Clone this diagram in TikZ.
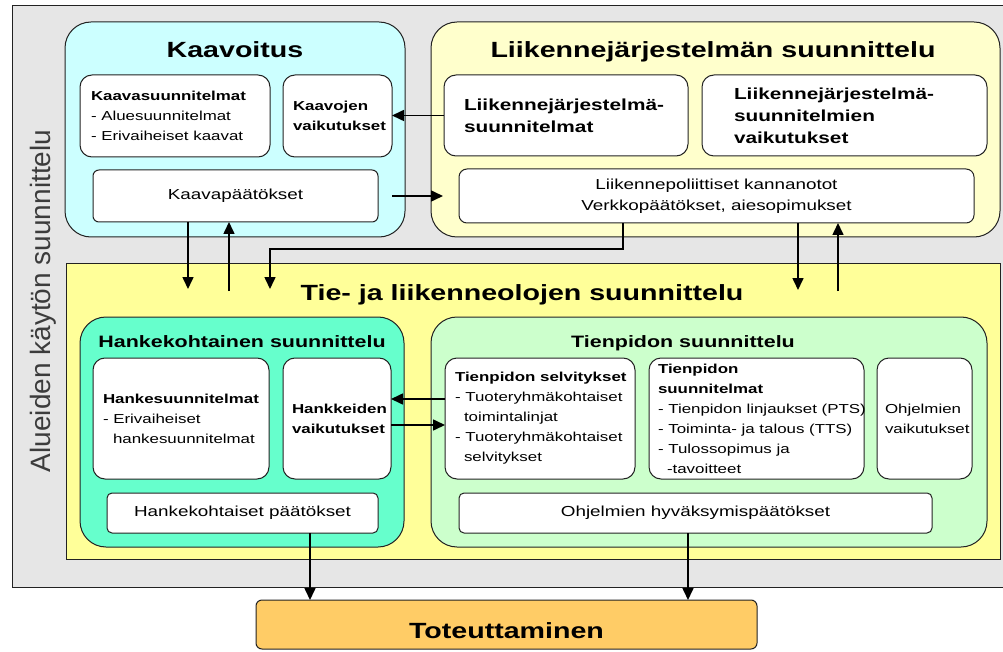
\documentclass[tikz,border=0pt]{standalone}
\usepackage{fontspec}
\setmainfont{Liberation Sans}[FakeStretch=1.3]
\newfontfamily\sidelabelfont{Liberation Sans}
\usetikzlibrary{arrows.meta}
\definecolor{cgray}{HTML}{E6E6E6}
\definecolor{ccyan}{HTML}{CCFFFF}
\definecolor{cliik}{HTML}{FFFFCC}
\definecolor{ctie}{HTML}{FFFF99}
\definecolor{chank}{HTML}{66FFCC}
\definecolor{ctienp}{HTML}{CCFFCC}
\definecolor{ctot}{HTML}{FFCC66}
\definecolor{cline}{HTML}{222222}
\definecolor{clabel}{HTML}{3C3C3C}
\tikzset{
  every node/.style={inner sep=0pt, outer sep=0pt},
  bigbox/.style={draw=cline, line width=1pt, rounded corners=26pt},
  inbox/.style={draw=cline, fill=white, line width=1pt, rounded corners=12pt},
  barbox/.style={draw=cline, fill=white, line width=1pt, rounded corners=6pt},
  ttl/.style={font=\fontsize{22}{26}\selectfont\bfseries, anchor=base},
  subttl/.style={font=\fontsize{16.5}{20}\selectfont\bfseries, anchor=base},
  medtxt/.style={font=\fontsize{14.5}{21}\selectfont, align=center},
  smtxt/.style={font=\fontsize{13}{20}\selectfont, align=left, anchor=west},
  lrgtxt/.style={font=\fontsize{16}{22}\selectfont\bfseries, align=left, anchor=west},
  arr/.style={draw=black, line width=1.6pt, -{Triangle[length=12pt,width=11pt]}},
}
\begin{document}
\begin{tikzpicture}[x=1pt,y=-1pt]
\useasboundingbox (0,0) rectangle (1003,652);
\clip (0,0) rectangle (1003,652);
\fill[white] (0,0) rectangle (1003,652);
% outer gray area
\draw[fill=cgray, draw=cline, line width=1pt] (12,6) rectangle (1012,587);
\node[font=\sidelabelfont\fontsize{28}{32}\selectfont, text=clabel, rotate=90, anchor=base] (alue) at (50,301) {Alueiden käytön suunnittelu};

% main boxes
\node[bigbox, fill=ccyan, minimum width=340pt, minimum height=215pt] (kaav) at (235,129.5) {};
\node[bigbox, fill=cliik, minimum width=569pt, minimum height=215pt] (liik) at (715.5,129.5) {};
\node[draw=cline, line width=1pt, fill=ctie, minimum width=934pt, minimum height=296pt] (tie) at (533,411) {};
\node[bigbox, fill=chank, minimum width=324pt, minimum height=230pt] (hank) at (242,432) {};
\node[bigbox, fill=ctienp, minimum width=556pt, minimum height=230pt] (tienp) at (709,432) {};
\node[barbox, fill=ctot, minimum width=501pt, minimum height=49pt] (tot) at (506.5,624.5) {};

% titles
\node[ttl] (kaavT) at (235,58) {Kaavoitus};
\node[ttl] (liikT) at (713,58) {Liikennejärjestelmän suunnittelu};
\node[ttl] (tieT) at (522,300) {Tie- ja liikenneolojen suunnittelu};
\node[subttl] (hankT) at (242,347) {Hankekohtainen suunnittelu};
\node[subttl] (tienpT) at (683,347) {Tienpidon suunnittelu};
\node[ttl] (totT) at (506.5,638) {Toteuttaminen};

% Kaavoitus inner boxes
\node[inbox, minimum width=190pt, minimum height=82pt] (ksuun) at (175,116) {};
\node[smtxt] (ksuunT) at ([xshift=11pt]ksuun.west) {\textbf{Kaavasuunnitelmat}\\- Aluesuunnitelmat\\- Erivaiheiset kaavat};
\node[inbox, minimum width=109pt, minimum height=82pt] (kvaik) at (337.5,116) {};
\node[smtxt, font=\fontsize{13}{20}\selectfont\bfseries] (kvaikT) at ([xshift=10pt]kvaik.west) {Kaavojen\\vaikutukset};
\node[barbox, medtxt, minimum width=285pt, minimum height=52pt] (kpaat) at (235.5,196) {Kaavapäätökset};

% Liikennejarjestelma inner boxes
\node[inbox, minimum width=244pt, minimum height=81pt] (lsuun) at (566,115.5) {};
\node[lrgtxt] (lsuunT) at ([xshift=20pt]lsuun.west) {Liikennejärjestelmä-\\suunnitelmat};
\node[inbox, minimum width=285pt, minimum height=81pt] (lvaik) at (844.5,115.5) {};
\node[lrgtxt] (lvaikT) at ([xshift=32pt]lvaik.west) {Liikennejärjestelmä-\\suunnitelmien\\vaikutukset};
\node[barbox, medtxt, rounded corners=8pt, minimum width=515pt, minimum height=54pt] (lpol) at (716.5,196) {Liikennepoliittiset kannanotot\\Verkkopäätökset, aiesopimukset};

% Hankekohtainen inner boxes
\node[inbox, minimum width=176pt, minimum height=121pt] (hsuun) at (181,418.5) {};
\node[smtxt] (hsuunT) at ([xshift=10pt]hsuun.west) {\textbf{Hankesuunnitelmat}\\- Erivaiheiset\\\hspace*{10pt}hankesuunnitelmat};
\node[inbox, minimum width=108pt, minimum height=121pt] (hvaik) at (337,418.5) {};
\node[smtxt, font=\fontsize{13}{20}\selectfont\bfseries] (hvaikT) at ([xshift=9pt]hvaik.west) {Hankkeiden\\vaikutukset};
\node[barbox, medtxt, rounded corners=5pt, minimum width=271pt, minimum height=40pt] (hpaat) at (242.5,513) {Hankekohtaiset päätökset};

% Tienpidon inner boxes
\node[inbox, minimum width=190pt, minimum height=121pt] (tselv) at (540,418.5) {};
\node[smtxt] (tselvT) at ([xshift=10pt]tselv.west) {\textbf{Tienpidon selvitykset}\\- Tuoteryhmäkohtaiset\\\hspace*{9pt}toimintalinjat\\- Tuoteryhmäkohtaiset\\\hspace*{9pt}selvitykset};
\node[inbox, minimum width=215pt, minimum height=121pt] (tsuun) at (756.5,418.5) {};
\node[smtxt] (tsuunT) at ([xshift=9pt]tsuun.west) {\textbf{Tienpidon}\\\textbf{suunnitelmat}\\- Tienpidon linjaukset (PTS)\\- Toiminta- ja talous (TTS)\\- Tulossopimus ja\\\hspace*{9pt}-tavoitteet};
\node[inbox, minimum width=95pt, minimum height=121pt] (ovaik) at (924.5,418.5) {};
\node[smtxt] (ovaikT) at ([xshift=8pt]ovaik.west) {Ohjelmien\\vaikutukset};
\node[barbox, medtxt, rounded corners=5pt, minimum width=473pt, minimum height=40pt] (ohyv) at (695.5,513) {Ohjelmien hyväksymispäätökset};

% connectors
\draw[arr] (lsuun.west) -- (lsuun.west -| kvaik.east);
\draw[arr, shorten <=14pt, shorten >=16pt] (kpaat.east) -- (lpol.west);

\coordinate (d1) at (188,289);
\coordinate (u1) at (229,291);
\coordinate (d2) at (270,289);
\coordinate (b1) at (623,249);
\coordinate (d3) at (798,290);
\coordinate (u2) at (838,291);
\draw[arr] (kpaat.south -| d1) -- (d1);
\draw[arr] (u1) -- (u1 |- kpaat.south);
\draw[arr] (lpol.south -| b1) -- (b1) -| (d2);
\draw[arr] (lpol.south -| d3) -- (d3);
\draw[arr] (u2) -- (u2 |- lpol.south);

\draw[arr] ([yshift=19.5pt]tselv.west) -- ([yshift=19.5pt]tselv.west -| hvaik.east);
\draw[arr] ([yshift=-6.5pt]hvaik.east) -- ([yshift=-6.5pt]hvaik.east -| tselv.west);

\coordinate (t1) at (310,0);
\coordinate (t2) at (688,0);
\draw[arr] (hpaat.south -| t1) -- (tot.north -| t1);
\draw[arr] (ohyv.south -| t2) -- (tot.north -| t2);
\end{tikzpicture}
\end{document}
